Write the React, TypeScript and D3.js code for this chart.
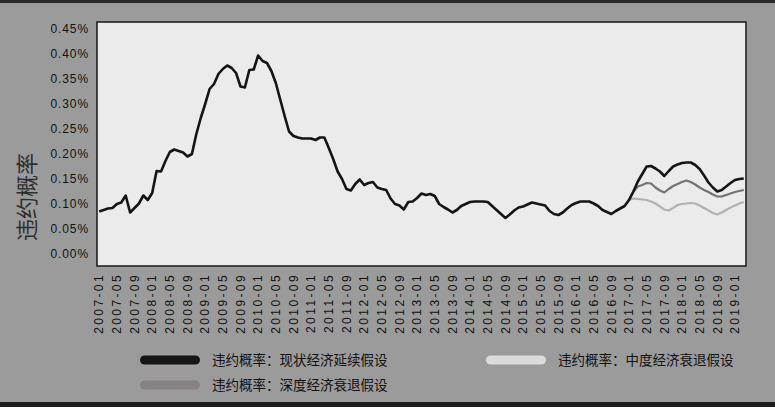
import React from 'react';
import * as d3 from 'd3';

// monthly categories, 2007-01 .. 2019-03
const months: string[] = d3.timeMonth
  .range(new Date(2007, 0, 1), new Date(2019, 3, 1))
  .map(d => d3.timeFormat('%Y-%m')(d));

// default probability (%) - status quo
const baseline = [
  0.085, 0.088, 0.091, 0.092, 0.100, 0.103, 0.117, 0.083, 0.092, 0.101,
  0.117, 0.108, 0.122, 0.166, 0.165, 0.186, 0.204, 0.209, 0.206, 0.203,
  0.195, 0.200, 0.240, 0.272, 0.300, 0.330, 0.340, 0.360, 0.370, 0.377,
  0.372, 0.362, 0.335, 0.333, 0.368, 0.369, 0.397, 0.386, 0.382, 0.366,
  0.342, 0.309, 0.276, 0.245, 0.236, 0.233, 0.231, 0.231, 0.231, 0.228,
  0.233, 0.233, 0.212, 0.190, 0.165, 0.150, 0.130, 0.127, 0.140, 0.149,
  0.138, 0.142, 0.144, 0.133, 0.130, 0.128, 0.111, 0.100, 0.097, 0.089,
  0.104, 0.105, 0.112, 0.121, 0.118, 0.120, 0.116, 0.100, 0.094, 0.089,
  0.083, 0.088, 0.096, 0.100, 0.104, 0.105, 0.105, 0.105, 0.104, 0.096,
  0.088, 0.080, 0.072, 0.079, 0.087, 0.093, 0.095, 0.099, 0.103, 0.101,
  0.099, 0.097, 0.086, 0.080, 0.078, 0.083, 0.091, 0.098, 0.102, 0.105,
  0.105, 0.105, 0.101, 0.096, 0.088, 0.084, 0.080, 0.086, 0.091, 0.096,
  0.108, 0.125, 0.145, 0.160, 0.175, 0.176, 0.171, 0.165, 0.156, 0.166,
  0.175, 0.179, 0.182, 0.183, 0.183, 0.178, 0.170, 0.157, 0.143, 0.133,
  0.125, 0.128, 0.135, 0.142, 0.148, 0.150, 0.151,
];

// scenarios start at 2017-01
const scenarioStart = '2017-01';
const deep = [
  0.108, 0.125, 0.135, 0.138, 0.142, 0.141, 0.133, 0.127, 0.123, 0.130,
  0.136, 0.140, 0.144, 0.147, 0.144, 0.139, 0.133, 0.128, 0.124, 0.119,
  0.115, 0.115, 0.118, 0.121, 0.124, 0.126, 0.128,
];
const moderate = [
  0.108, 0.111, 0.110, 0.109, 0.108, 0.105, 0.101, 0.095, 0.089, 0.087,
  0.092, 0.098, 0.100, 0.101, 0.102, 0.101, 0.097, 0.092, 0.087, 0.082,
  0.079, 0.083, 0.088, 0.093, 0.097, 0.101, 0.104,
];

const yTicks = [0, 0.05, 0.1, 0.15, 0.2, 0.25, 0.3, 0.35, 0.4, 0.45];

const W = 775, H = 407;
const plot = { left: 97, right: 746, top: 22, bottom: 266 };
const font = '"Liberation Sans", Arial, sans-serif';
const cjk = '"Noto Sans CJK SC", sans-serif';

export default function App() {
  const x = d3.scalePoint<string>()
    .domain(months)
    .range([plot.left, plot.right])
    .padding(0.5);
  const y = d3.scaleLinear()
    .domain([-0.024, 0.464])
    .range([plot.bottom, plot.top]);

  const line = d3.line<[string, number]>()
    .x(d => x(d[0]) as number)
    .y(d => y(d[1]));

  const startIdx = months.indexOf(scenarioStart);
  const base = baseline.map((v, i) => [months[i], v] as [string, number]);
  const deepPts = deep.map((v, i) => [months[startIdx + i], v] as [string, number]);
  const modPts = moderate.map((v, i) => [months[startIdx + i], v] as [string, number]);

  const xLabels = months.filter((m, i) => i % 4 === 0);
  const fmt = d3.format('.2f');

  const legend = [
    { label: '违约概率：现状经济延续假设', color: '#151515', x: 140, y: 360 },
    { label: '违约概率：中度经济衰退假设', color: '#dadada', x: 486, y: 360 },
    { label: '违约概率：深度经济衰退假设', color: '#878182', x: 140, y: 385 },
  ];

  return (
    <svg width={W} height={H} style={{ position: 'absolute', left: 0, top: 0 }}>
      <rect x={0} y={0} width={W} height={H} fill="#9b9b9b" />
      <rect x={0} y={0} width={W} height={3} fill="#2a2a2a" />
      <rect x={0} y={402} width={W} height={5} fill="#1c1c1c" />

      <rect x={plot.left} y={plot.top} width={plot.right - plot.left} height={plot.bottom - plot.top}
        fill="#ebebeb" stroke="#1a1a1a" strokeWidth={1.5} />

      {yTicks.map(t => (
        <text key={t} x={89} y={y(t)} dy="0.35em" textAnchor="end" fontFamily={font}
          fontSize={12} letterSpacing={0.9} fill="#111">{fmt(t) + '%'}</text>
      ))}

      <text transform="translate(27,197) rotate(-90)" textAnchor="middle" dy="0.35em"
        fontFamily={cjk} fontSize={22} fill="#2e2e2e">违约概率</text>

      {xLabels.map(m => (
        <text key={m} transform={`translate(${x(m)},273) rotate(-90)`} textAnchor="end" dy="0.35em"
          fontFamily={font} fontSize={12} letterSpacing={2.4} fill="#111">{m}</text>
      ))}

      <path d={line(modPts) || ''} fill="none" stroke="#b5b0b1" strokeWidth={2.2} strokeLinejoin="round" />
      <path d={line(deepPts) || ''} fill="none" stroke="#777172" strokeWidth={2.2} strokeLinejoin="round" />
      <path d={line(base) || ''} fill="none" stroke="#151515" strokeWidth={2.6} strokeLinejoin="round" />

      {legend.map(l => (
        <g key={l.label}>
          <rect x={l.x} y={l.y - 4.5} width={60} height={9} rx={4.5} fill={l.color} />
          <text x={l.x + 72} y={l.y} dy="0.35em" fontFamily={cjk} fontSize={13.5} fill="#111">{l.label}</text>
        </g>
      ))}
    </svg>
  );
}
